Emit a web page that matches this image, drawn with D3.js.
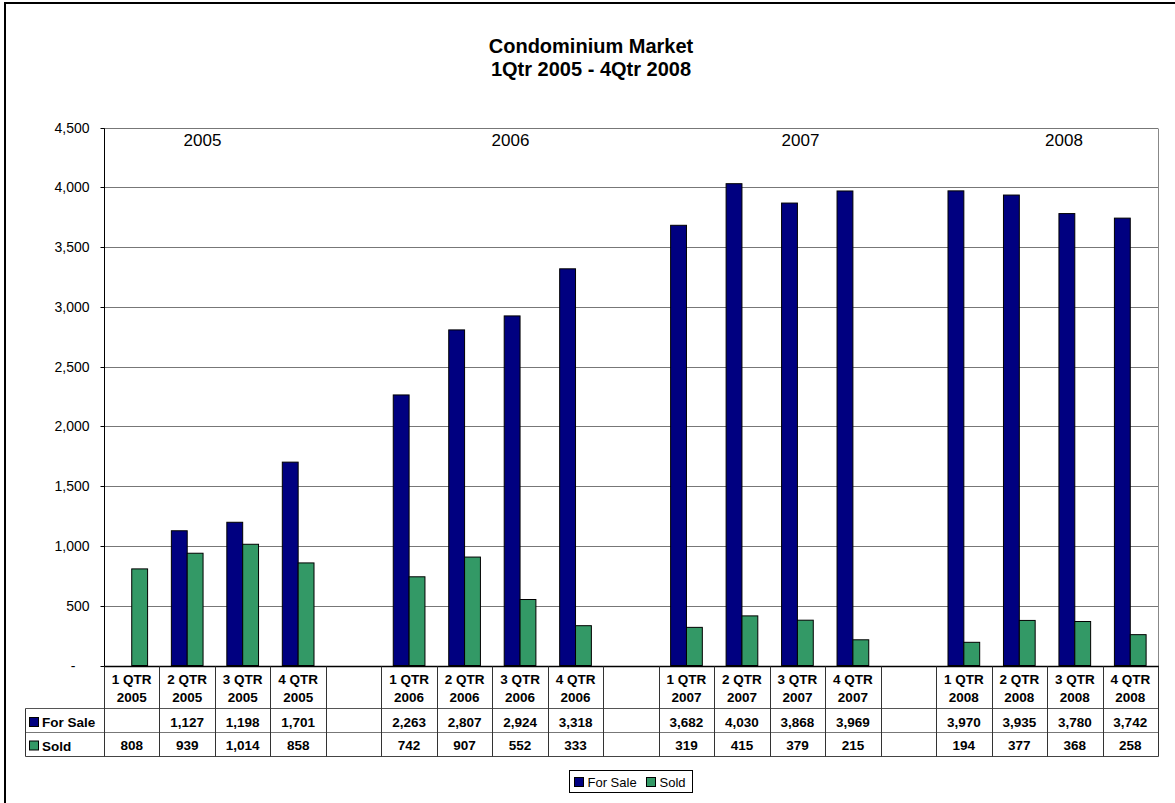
<!DOCTYPE html>
<html>
<head>
<meta charset="utf-8">
<script src="https://cdn.jsdelivr.net/npm/d3@7"></script>
<style>
  html, body { margin: 0; padding: 0; background: #fff; }
  svg { display: block; font-family: "Liberation Sans", Arial, sans-serif; }
</style>
</head>
<body>
<svg id="chart" width="1175" height="803"></svg>
<script>
// ---- data ----
const quarterLabels = ["1 QTR", "2 QTR", "3 QTR", "4 QTR", "", "1 QTR", "2 QTR", "3 QTR", "4 QTR", "", "1 QTR", "2 QTR", "3 QTR", "4 QTR", "", "1 QTR", "2 QTR", "3 QTR", "4 QTR"];
const yearLabels = ["2005", "2005", "2005", "2005", "", "2006", "2006", "2006", "2006", "", "2007", "2007", "2007", "2007", "", "2008", "2008", "2008", "2008"];
const forSale = [null, 1127, 1198, 1701, null, 2263, 2807, 2924, 3318, null, 3682, 4030, 3868, 3969, null, 3970, 3935, 3780, 3742];
const sold = [808, 939, 1014, 858, null, 742, 907, 552, 333, null, 319, 415, 379, 215, null, 194, 377, 368, 258];
const seriesNames = ["For Sale", "Sold"];
const yTicks = [0, 500, 1000, 1500, 2000, 2500, 3000, 3500, 4000, 4500];
const yearAnnotations = ["2005", "2006", "2007", "2008"];
const titleLines = ["Condominium Market", "1Qtr 2005 - 4Qtr 2008"];

// ---- layout ----
const colors = ["#000080", "#339966"];
const plot = { left: 104, right: 1158, top: 127.5, bottom: 665.5 };
const yearAnnX = [202.5, 510.5, 800.5, 1064];

const svg = d3.select("#chart");
const idx = d3.range(quarterLabels.length);
const x = d3.scaleBand().domain(idx).range([plot.left, plot.right]).paddingInner(0).paddingOuter(0);
const y = d3.scaleLinear().domain([0, 4500]).range([plot.bottom, plot.top]);
const snap = v => Math.round(v) + 0.5;

// outer border (chart area, cut at right/bottom)
svg.append("rect").attr("x", 5).attr("y", 3).attr("width", 1300).attr("height", 1000)
  .attr("fill", "none").attr("stroke", "#000").attr("stroke-width", 2);

// title
svg.append("g").selectAll("text").data(titleLines).join("text")
  .attr("x", 591).attr("y", (d, i) => 53 + i * 23)
  .attr("text-anchor", "middle").attr("font-size", 20).attr("font-weight", "bold")
  .text(d => d);

// gridlines
svg.append("g").selectAll("line").data(yTicks.filter(d => d > 0)).join("line")
  .attr("x1", plot.left).attr("x2", plot.right)
  .attr("y1", d => snap(y(d))).attr("y2", d => snap(y(d)))
  .attr("stroke", "#777").attr("stroke-width", 1);
// right plot border
svg.append("line").attr("x1", plot.right + 0.5).attr("x2", plot.right + 0.5)
  .attr("y1", snap(y(4500))).attr("y2", snap(y(0)))
  .attr("stroke", "#888");

// y axis
const yAxis = d3.axisLeft(y).tickValues(yTicks).tickSize(4).tickPadding(11)
  .tickFormat(d => d === 0 ? "-" : d3.format(",")(d));
const gy = svg.append("g").attr("transform", `translate(${plot.left + 0.5},0)`).call(yAxis);
gy.select(".domain").attr("stroke", "#000").attr("d", `M0,${snap(y(4500))}V${snap(y(0))}`);
gy.selectAll(".tick line").attr("stroke", "#000");
gy.selectAll(".tick").attr("transform", d => `translate(0,${snap(y(d))})`);
gy.selectAll(".tick text").attr("font-size", 14).attr("fill", "#000")
  .attr("font-family", "'Liberation Sans', Arial, sans-serif")
  .attr("dx", d => d === 0 ? -14 : 0);

// bars
const bw = x.bandwidth() / 3.5;
const seriesData = [forSale, sold];
seriesData.forEach((vals, s) => {
  svg.append("g").selectAll("rect")
    .data(idx.filter(i => vals[i] != null))
    .join("rect")
    .attr("x", i => x(i) + x.bandwidth() / 2 - bw + s * bw)
    .attr("y", i => y(vals[i]))
    .attr("width", bw)
    .attr("height", i => y(0) - y(vals[i]))
    .attr("fill", colors[s]).attr("stroke", "#000").attr("stroke-width", 1);
});

// year annotations
svg.append("g").selectAll("text").data(yearAnnotations).join("text")
  .attr("x", (d, i) => yearAnnX[i]).attr("y", 146)
  .attr("text-anchor", "middle").attr("font-size", 17).text(d => d);

// x axis line
svg.append("line").attr("x1", plot.left).attr("x2", plot.right + 1)
  .attr("y1", snap(y(0))).attr("y2", snap(y(0))).attr("stroke", "#000").attr("stroke-width", 1.5);

// ---- data table ----
const rowTop = snap(y(0));
const rows = [rowTop, 708.5, 732.5, 756.5];
const tableLeft = 25.5;
const tg = svg.append("g");
// horizontal lines
tg.append("line").attr("x1", tableLeft).attr("x2", plot.right + 0.5).attr("y1", rows[1]).attr("y2", rows[1]).attr("stroke", "#555");
tg.append("line").attr("x1", tableLeft).attr("x2", plot.right + 0.5).attr("y1", rows[2]).attr("y2", rows[2]).attr("stroke", "#777");
tg.append("line").attr("x1", tableLeft).attr("x2", plot.right + 0.5).attr("y1", rows[3]).attr("y2", rows[3]).attr("stroke", "#444");
// vertical lines
const bounds = idx.map(i => x(i)).concat([plot.right]);
tg.selectAll("line.v").data(bounds).join("line").attr("class", "v")
  .attr("x1", d => snap(d) - (d === plot.right ? 0 : 0)).attr("x2", d => snap(d))
  .attr("y1", rows[0]).attr("y2", rows[3]).attr("stroke", "#333");
tg.append("line").attr("x1", tableLeft).attr("x2", tableLeft).attr("y1", rows[1]).attr("y2", rows[3]).attr("stroke", "#333");

// header text
const hdr = tg.append("g").selectAll("text").data(idx).join("text")
  .attr("text-anchor", "middle").attr("font-size", 13.5).attr("font-weight", "bold");
hdr.append("tspan").attr("x", i => x(i) + x.bandwidth() / 2).attr("y", 684).text(i => quarterLabels[i]);
hdr.append("tspan").attr("x", i => x(i) + x.bandwidth() / 2).attr("y", 701.5).text(i => yearLabels[i]);

// values
const fmt = d3.format(",");
seriesData.forEach((vals, s) => {
  tg.append("g").selectAll("text").data(idx.filter(i => vals[i] != null)).join("text")
    .attr("x", i => x(i) + x.bandwidth() / 2).attr("y", 726.5 + s * 23.5)
    .attr("text-anchor", "middle").attr("font-size", 13.5).attr("font-weight", "bold")
    .text(i => fmt(vals[i]));
  // row label
  tg.append("rect").attr("x", 29.5).attr("y", 717.5 + s * 23.5).attr("width", 9).attr("height", 9)
    .attr("fill", colors[s]).attr("stroke", "#000");
  tg.append("text").attr("x", 42).attr("y", 726.5 + s * 23.5 + (s === 1 ? 1 : 0))
    .attr("font-size", 13.5).attr("font-weight", "bold").text(seriesNames[s]);
});

// ---- legend ----
const lg = svg.append("g");
lg.append("rect").attr("x", 569.5).attr("y", 770.5).attr("width", 123).attr("height", 22)
  .attr("fill", "#fff").attr("stroke", "#000");
const legX = [574.5, 646.5];
seriesNames.forEach((n, s) => {
  lg.append("rect").attr("x", legX[s]).attr("y", 777.5).attr("width", 9).attr("height", 9)
    .attr("fill", colors[s]).attr("stroke", "#000");
  lg.append("text").attr("x", legX[s] + 13).attr("y", 786.5).attr("font-size", 13).text(n);
});
</script>
</body>
</html>
